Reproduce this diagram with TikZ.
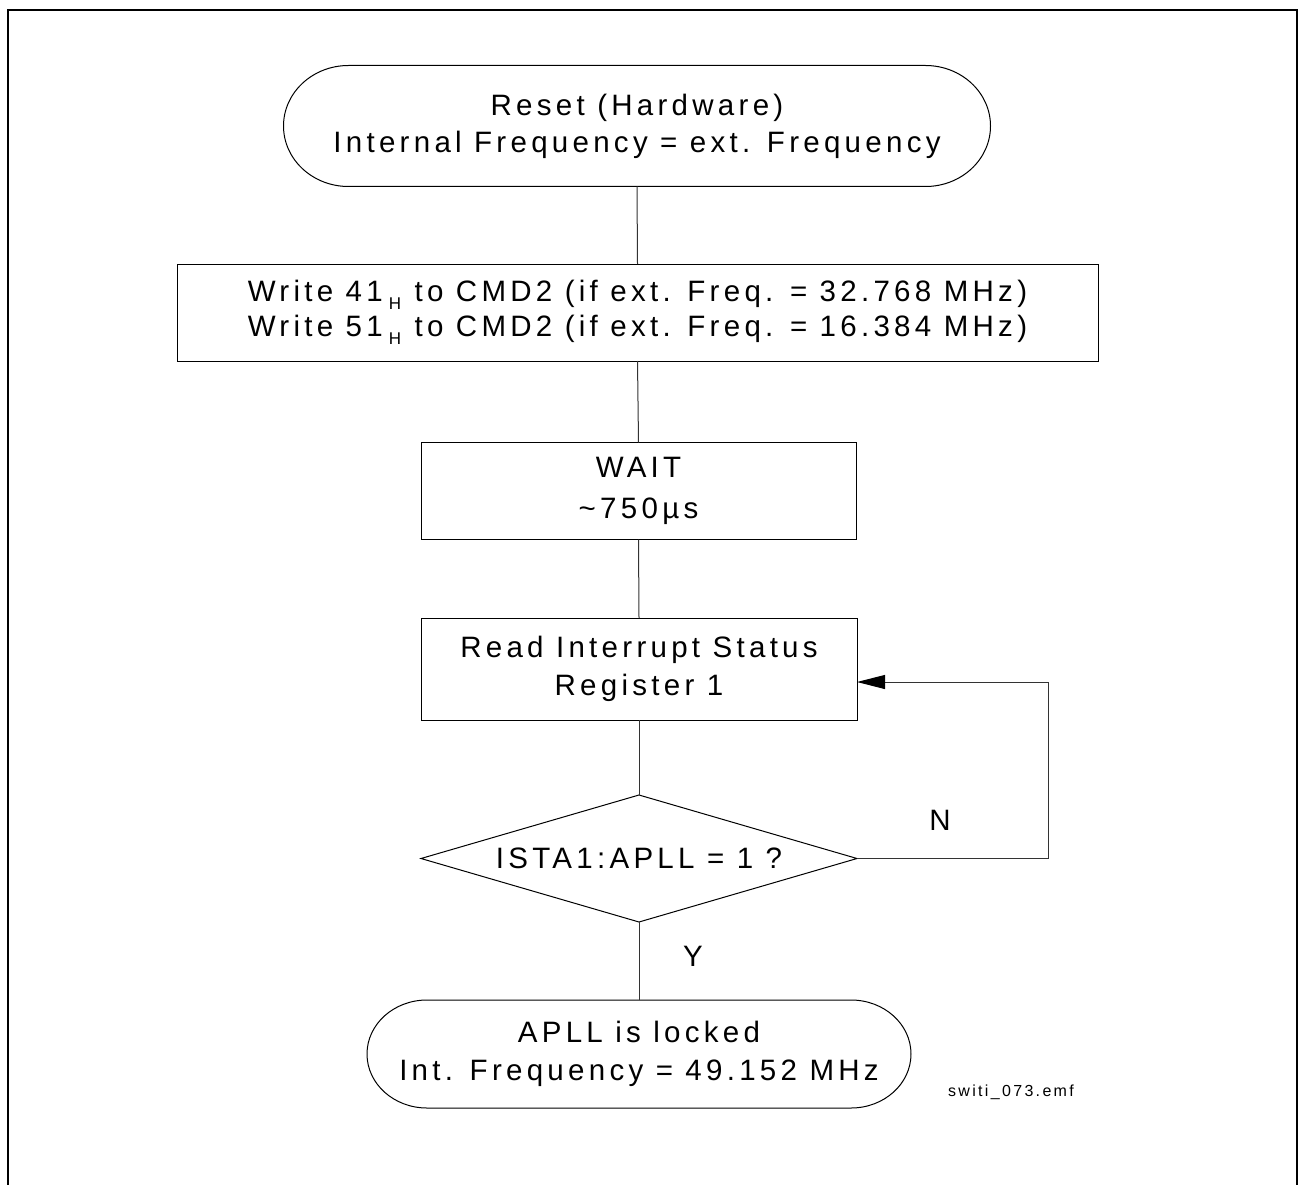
\documentclass[tikz,border=0pt]{standalone}
\usepackage{fontspec}
\setmainfont{Liberation Sans}[LetterSpace=14.5]
\usetikzlibrary{shapes.geometric,arrows.meta}
\newcommand{\hsub}[1]{\kern6pt\raisebox{-8.5pt}{\fontsize{17}{17}\selectfont #1}\kern1pt\relax}
\begin{document}
\begin{tikzpicture}[x=1pt,y=-1pt,
  txt/.style={align=center,inner sep=0pt,outer sep=0pt},
  box/.style={draw,txt,rectangle,line width=1pt},
  term/.style={txt,rectangle},
  dec/.style={draw,txt,diamond,line width=1pt,shape aspect=3.43},
  outline/.style={line width=1pt},
  conn/.style={line width=1pt,draw=black!80},
  lbl/.style={font=\fontsize{29.5}{29.5}\selectfont,inner sep=0pt}
]
\useasboundingbox (0,0) rectangle (1298,1185);
\clip (0,0) rectangle (1298,1185);
\draw[line width=2pt] (8,10) rectangle (1297,1210);

% start terminal
\node[term,minimum width=707pt,minimum height=121pt,font=\fontsize{29.5}{37}\selectfont]
  (st) at (637,126) {Reset (Hardware)\\Internal Frequency = ext. Frequency};
\draw[outline] ([xshift=65pt]st.north west) -- ([xshift=-65pt]st.north east)
  arc[start angle=90,end angle=-90,x radius=65pt,y radius=60.5pt]
  -- ([xshift=65pt]st.south west)
  arc[start angle=270,end angle=90,x radius=65pt,y radius=60.5pt] -- cycle;

% write box
\node[box,minimum width=921pt,minimum height=97pt,font=\fontsize{29.5}{35}\selectfont]
  (wr) at (637.5,312.5) {Write 41\hsub{H} to CMD2 (if ext. Freq. = 32.768 MHz)\\Write 51\hsub{H} to CMD2 (if ext. Freq. = 16.384 MHz)};

% wait box
\node[box,minimum width=435pt,minimum height=97pt,font=\fontsize{29.5}{41}\selectfont]
  (wt) at (638.5,491) {WAIT\\\textasciitilde750µs};

% read box
\node[box,minimum width=436pt,minimum height=102pt,font=\fontsize{29.5}{38}\selectfont]
  (rd) at (639,669) {Read Interrupt Status\\Register 1};

% decision
\node[dec,minimum width=436pt,minimum height=127pt,font=\fontsize{29.5}{29.5}\selectfont]
  (dc) at (639,858.5) {ISTA1:APLL = 1 ?};

% end terminal
\node[term,minimum width=544pt,minimum height=108pt,font=\fontsize{29.5}{38}\selectfont]
  (en) at (639,1054) {APLL is locked\\Int. Frequency = 49.152 MHz};
\draw[outline] ([xshift=60pt]en.north west) -- ([xshift=-60pt]en.north east)
  arc[start angle=90,end angle=-90,x radius=60pt,y radius=54pt]
  -- ([xshift=60pt]en.south west)
  arc[start angle=270,end angle=90,x radius=60pt,y radius=54pt] -- cycle;

% labels
\node[lbl] (nl) at (940,820) {N};
\node[lbl] (yl) at (693,956) {Y};
\node[inner sep=0pt,font=\fontsize{16}{16}\selectfont] (fn) at (1011,1092) {switi\_073.emf};

% connectors
\draw[conn] (st.south) -- (wr.north);
\draw[conn] (wr.south) -- (wt.north);
\draw[conn] (wt.south) -- (rd.north);
\draw[conn] (rd.south) -- (dc.north);
\draw[conn] (dc.south) -- (en.north);
\coordinate (lp) at (1048,858.5);
\draw[conn,-{Triangle[length=28pt,width=14pt,color=black,fill=black]}] (dc.east) -- (lp) |- ([yshift=-13pt]rd.east);
\end{tikzpicture}
\end{document}
